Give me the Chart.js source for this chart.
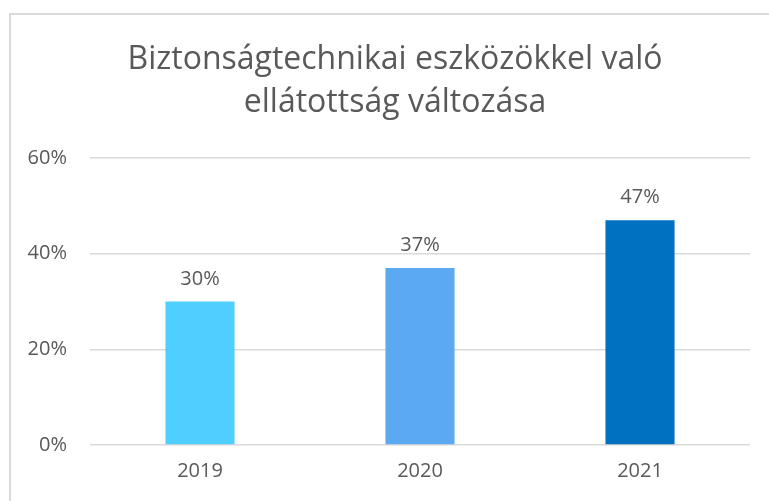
<!DOCTYPE html>
<html>
<head>
<meta charset="utf-8">
<script src="https://cdn.jsdelivr.net/npm/chart.js@4/dist/chart.umd.min.js"></script>
<style>
  html, body { margin: 0; padding: 0; background: #fff; }
  #frame { position: absolute; left: 9px; top: 13px; width: 800px; height: 520px;
           border-left: 2px solid #D9D9D9; border-top: 2px solid #D9D9D9; }
  #wrap { position: absolute; left: 0; top: 0; width: 769px; height: 501px; }
</style>
</head>
<body>
<div id="frame"></div>
<div id="wrap"><canvas id="chart"></canvas></div>
<script>
// données
var years = ['2019', '2020', '2021'];
var shares = [30, 37, 47];
var barColors = ['#4FCFFF', '#5BA9F0', '#0070C0'];
var yTicks = [0, 20, 40, 60];
var titleLines = ['Biztonságtechnikai eszközökkel való', 'ellátottság változása'];

var textColor = '#595959';
var fontFamily = "'Open Sans', Lato, sans-serif";

// étiquettes de valeur au-dessus des barres
var valueLabels = {
  id: 'valueLabels',
  afterLayout: function (chart) {
    // le titre est centré sur la zone de tracé, pas sur tout le canvas
    if (chart.titleBlock) chart.titleBlock.left = 40;
  },
  afterDatasetsDraw: function (chart) {
    var ctx = chart.ctx;
    var meta = chart.getDatasetMeta(0);
    ctx.save();
    ctx.font = '20px ' + fontFamily;
    ctx.fillStyle = textColor;
    ctx.textAlign = 'center';
    ctx.textBaseline = 'alphabetic';
    meta.data.forEach(function (bar, i) {
      ctx.fillText(shares[i] + '%', bar.x, bar.y - 17);
    });
    ctx.restore();
  }
};

new Chart(document.getElementById('chart'), {
  type: 'bar',
  data: {
    labels: years,
    datasets: [{
      data: shares,
      backgroundColor: barColors,
      borderWidth: 0,
      barPercentage: 1,
      categoryPercentage: 0.314
    }]
  },
  options: {
    responsive: true,
    maintainAspectRatio: false,
    animation: false,
    layout: { padding: { left: 0, right: 19, top: 0, bottom: 4 } },
    plugins: {
      legend: { display: false },
      tooltip: { enabled: false },
      title: {
        display: true,
        text: titleLines,
        color: textColor,
        font: { family: fontFamily, size: 32, weight: 'normal', lineHeight: 1.344 },
        padding: { top: 38.5, bottom: 33.5 }
      }
    },
    scales: {
      x: {
        grid: { display: false, drawTicks: false },
        border: { display: false },
        ticks: { color: textColor, font: { family: fontFamily, size: 20 }, padding: 14 }
      },
      y: {
        min: 0,
        max: 60,
        afterFit: function (scale) { scale.width = 90; },
        afterBuildTicks: function (scale) {
          scale.ticks = yTicks.map(function (v) { return { value: v }; });
        },
        grid: { color: '#D9D9D9', lineWidth: 1.5, drawTicks: false },
        border: { display: false },
        ticks: {
          color: textColor,
          font: { family: fontFamily, size: 20 },
          padding: 23,
          callback: function (v) { return v + '%'; }
        }
      }
    }
  },
  plugins: [valueLabels]
});
</script>
</body>
</html>
